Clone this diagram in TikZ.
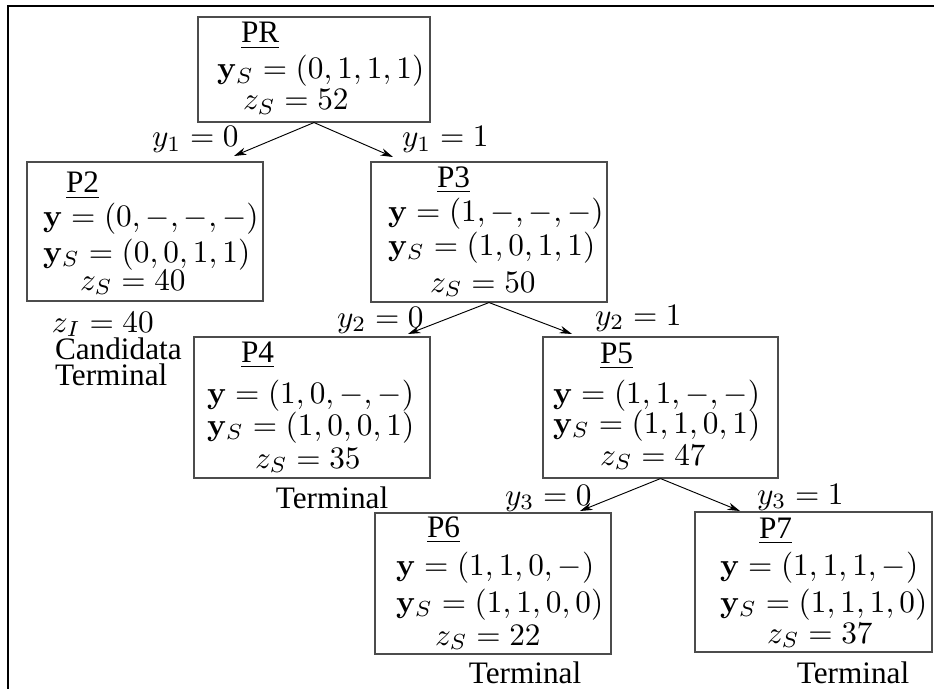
\documentclass[tikz,border=0pt]{standalone}
\usepackage[no-math]{fontspec}
\setmainfont{Liberation Serif}
\usetikzlibrary{fit,arrows.meta}

\begin{document}
\begin{tikzpicture}[x=0.32pt,y=-0.32pt,
  boxst/.style={draw=black!70, line width=0.35pt, inner sep=0pt},
  txt/.style={anchor=base west, inner sep=0pt, outer sep=0pt},
  mid/.style={anchor=base, inner sep=0pt, outer sep=0pt},
  edge/.style={-{Stealth[length=4pt,width=2.4pt]}, line width=0.3pt},
  framest/.style={line width=0.7pt}]
\useasboundingbox (0,0) rectangle (934,689);
\draw[framest] (8,689) -- (8,6) -- (934,6);

% subproblem boxes
\node[boxst, fit={(198,17) (430,122)}] (pr) {};
\node[boxst, fit={(27,162) (263,301)}] (p2) {};
\node[boxst, fit={(371,162) (607,302)}] (p3) {};
\node[boxst, fit={(194,337) (430,478)}] (p4) {};
\node[boxst, fit={(543,337) (778,478)}] (p5) {};
\node[boxst, fit={(375,513) (611,654)}] (p6) {};
\node[boxst, fit={(695,512) (932,652)}] (p7) {};

% PR
\node[txt] (prn) at (241,43) {\underline{PR}};
\node[txt] (prs) at (217,79) {$\mathbf{y}_S=(0,1,1,1)$};
\node[txt] (prz) at (243,110) {$z_S=52$};

% P2
\node[txt] (p2n) at (66,193) {\underline{P2}};
\node[txt] (p2y) at (43,227) {$\mathbf{y}=(0,-,-,-)$};
\node[txt] (p2s) at (43,262) {$\mathbf{y}_S=(0,0,1,1)$};
\node[txt] (p2z) at (80,290) {$z_S=40$};
\node[txt] (p2i) at (52,332) {$z_I=40$};
\node[txt, align=left, font=\fontsize{10pt}{7pt}\selectfont] (p2c) at (55,385) {Candidata\\Terminal};

% P3
\node[txt] (p3n) at (437,187) {\underline{P3}};
\node[txt] (p3y) at (388,222) {$\mathbf{y}=(1,-,-,-)$};
\node[txt] (p3s) at (388,255) {$\mathbf{y}_S=(1,0,1,1)$};
\node[txt] (p3z) at (430,292) {$z_S=50$};

% P4
\node[txt] (p4n) at (241,362) {\underline{P4}};
\node[txt] (p4y) at (207,403) {$\mathbf{y}=(1,0,-,-)$};
\node[txt] (p4s) at (207,435) {$\mathbf{y}_S=(1,0,0,1)$};
\node[txt] (p4z) at (255,468) {$z_S=35$};
\node[mid] (p4t) at (332,508) {Terminal};

% P5
\node[txt] (p5n) at (600,363) {\underline{P5}};
\node[txt] (p5y) at (553,403) {$\mathbf{y}=(1,1,-,-)$};
\node[txt] (p5s) at (553,433) {$\mathbf{y}_S=(1,1,0,1)$};
\node[txt] (p5z) at (600,465) {$z_S=47$};

% P6
\node[txt] (p6n) at (427,537) {\underline{P6}};
\node[txt] (p6y) at (396,575) {$\mathbf{y}=(1,1,0,-)$};
\node[txt] (p6s) at (396,612) {$\mathbf{y}_S=(1,1,0,0)$};
\node[txt] (p6z) at (435,645) {$z_S=22$};
\node[mid] (p6t) at (525,683) {Terminal};

% P7
\node[txt] (p7n) at (759,538) {\underline{P7}};
\node[txt] (p7y) at (720,575) {$\mathbf{y}=(1,1,1,-)$};
\node[txt] (p7s) at (720,612) {$\mathbf{y}_S=(1,1,1,0)$};
\node[txt] (p7z) at (767,643) {$z_S=37$};
\node[mid] (p7t) at (853,683) {Terminal};

% branching
\coordinate (t2) at (234,156);
\coordinate (t3) at (393,157);
\coordinate (t4) at (408,334);
\coordinate (t5) at (572,334);
\coordinate (t6) at (580,511);
\coordinate (t7) at (740,511);
\draw[edge] (pr.south) -- (t2);
\draw[edge] (pr.south) -- (t3);
\draw[edge] (p3.south) -- (t4);
\draw[edge] (p3.south) -- (t5);
\draw[edge] (p5.south) -- (t6);
\draw[edge] (p5.south) -- (t7);

% branch labels
\node[txt] (l10) at (152,147) {$y_1=0$};
\node[txt] (l11) at (402,147) {$y_1=1$};
\node[txt] (l20) at (337,327) {$y_2=0$};
\node[txt] (l21) at (595,325) {$y_2=1$};
\node[txt] (l30) at (505,505) {$y_3=0$};
\node[txt] (l31) at (757,504) {$y_3=1$};
\end{tikzpicture}
\end{document}
